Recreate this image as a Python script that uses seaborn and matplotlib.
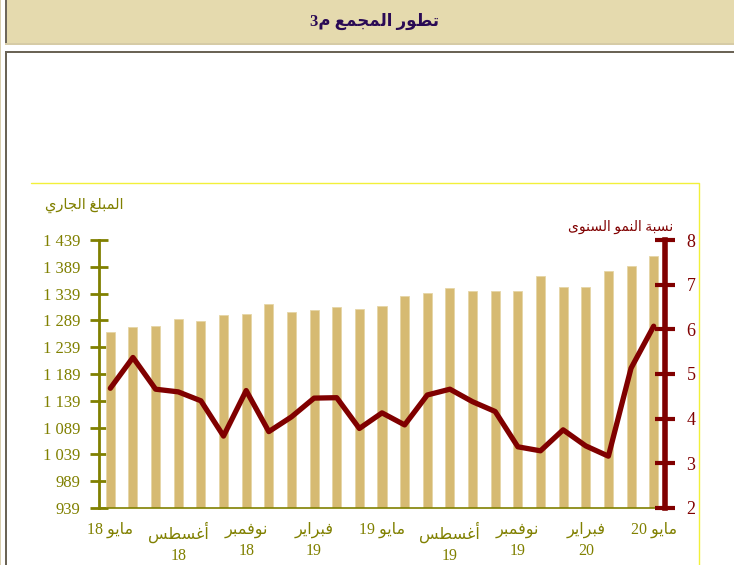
import re
import numpy as np
import seaborn as sns
import matplotlib
matplotlib.use('Agg')
import matplotlib.pyplot as plt
from matplotlib.patches import Rectangle
from matplotlib.lines import Line2D

# monthly data, May 2018 - May 2020
months = ["مايو 18", "يونيو 18", "يوليو 18", "أغسطس 18", "سبتمبر 18", "أكتوبر 18",
          "نوفمبر 18", "ديسمبر 18", "يناير 19", "فبراير 19", "مارس 19", "أبريل 19",
          "مايو 19", "يونيو 19", "يوليو 19", "أغسطس 19", "سبتمبر 19", "أكتوبر 19",
          "نوفمبر 19", "ديسمبر 19", "يناير 20", "فبراير 20", "مارس 20", "أبريل 20", "مايو 20"]
amount = [1267, 1277, 1279, 1292, 1288, 1299, 1301, 1320, 1305, 1308, 1314, 1310, 1316,
          1334, 1340, 1349, 1343, 1344, 1344, 1371, 1351, 1351, 1382, 1390, 1410]
growth = [4.68, 5.37, 4.66, 4.60, 4.40, 3.61, 4.63, 3.71, 4.04, 4.46, 4.47, 3.78, 4.13,
          3.86, 4.53, 4.66, 4.38, 4.16, 3.37, 3.28, 3.75, 3.39, 3.16, 5.13, 6.07]
xtick_labels = ["مايو 18", "أغسطس\n18", "نوفمبر\n18", "فبراير\n19", "مايو 19",
                "أغسطس\n19", "نوفمبر\n19", "فبراير\n20", "مايو 20"]
left_ticks = list(range(939, 1440, 50))
right_ticks = [2, 3, 4, 5, 6, 7, 8]

title = "تطور المجمع م3"
left_title = "المبلغ الجاري"
right_title = "نسبة النمو السنوى"

# matplotlib has no arabic shaping, so map letters to presentation forms
FORMS = {
    'ا': ('\uFE8D', '\uFE8E', None, None),
    'أ': ('\uFE83', '\uFE84', None, None),
    'ب': ('\uFE8F', '\uFE90', '\uFE91', '\uFE92'),
    'ة': ('\uFE93', '\uFE94', None, None),
    'ت': ('\uFE95', '\uFE96', '\uFE97', '\uFE98'),
    'ج': ('\uFE9D', '\uFE9E', '\uFE9F', '\uFEA0'),
    'ر': ('\uFEAD', '\uFEAE', None, None),
    'س': ('\uFEB1', '\uFEB2', '\uFEB3', '\uFEB4'),
    'ط': ('\uFEC1', '\uFEC2', '\uFEC3', '\uFEC4'),
    'ع': ('\uFEC9', '\uFECA', '\uFECB', '\uFECC'),
    'غ': ('\uFECD', '\uFECE', '\uFECF', '\uFED0'),
    'ف': ('\uFED1', '\uFED2', '\uFED3', '\uFED4'),
    'ل': ('\uFEDD', '\uFEDE', '\uFEDF', '\uFEE0'),
    'م': ('\uFEE1', '\uFEE2', '\uFEE3', '\uFEE4'),
    'ن': ('\uFEE5', '\uFEE6', '\uFEE7', '\uFEE8'),
    'و': ('\uFEED', '\uFEEE', None, None),
    'ى': ('\uFEEF', '\uFEF0', None, None),
    'ي': ('\uFEF1', '\uFEF2', '\uFEF3', '\uFEF4'),
}


def shape(text):
    out = []
    for i, ch in enumerate(text):
        f = FORMS.get(ch)
        if f is None:
            out.append(ch)
            continue
        prev = text[i - 1] if i > 0 else ''
        nxt = text[i + 1] if i + 1 < len(text) else ''
        jp = prev in FORMS and FORMS[prev][2] is not None
        jn = f[2] is not None and nxt in FORMS
        if jp and jn:
            out.append(f[3])
        elif jp:
            out.append(f[1])
        elif jn:
            out.append(f[2])
        else:
            out.append(f[0])
    return ''.join(out)


def ar(text):
    lines = []
    for line in text.split('\n'):
        runs = re.findall(r'[0-9]+|[^0-9]+', shape(line))
        vis = [r if r[0].isdigit() else r[::-1] for r in runs]
        lines.append(''.join(vis[::-1]))
    return '\n'.join(lines)


olive = '#808000'
maroon = '#800000'
W, H = 734, 565

sns.set_style('white')
plt.rcParams['font.family'] = ['Liberation Serif', 'DejaVu Sans']

fig = plt.figure(figsize=(W / 100, H / 100), dpi=100)


def fx(x):
    return x / W


def fy(y):
    return 1 - y / H


def rect(x0, y0, x1, y1, color):
    fig.add_artist(Rectangle((fx(x0), fy(y1)), fx(x1) - fx(x0), fy(y0) - fy(y1),
                             transform=fig.transFigure, color=color, lw=0))


# page decoration
rect(0, 0, 1.5, H, '#D9CFAE')
rect(5, 0, W, 43, '#E5DAAE')
rect(5, 43, W, 45, '#D6CBA6')
rect(5, 0, 7, 43, '#6E675A')
rect(5, 51, W, 53, '#6B6456')
rect(5, 51, 7, H, '#6B6456')
fig.add_artist(Line2D([fx(31), fx(699), fx(699)], [fy(183), fy(183), fy(H)],
                      transform=fig.transFigure, color='#F2F03A', lw=1))
fig.text(fx(375), fy(21), ar(title), ha='center', va='center', fontsize=12,
         fontweight='bold', color='#2A0A55')

ax = fig.add_axes([fx(99), fy(508), fx(665) - fx(99), fy(240) - fy(508)])
ax.patch.set_alpha(0)
sns.barplot(x=months, y=amount, ax=ax, color='#D6BA72', width=0.4, saturation=1,
            edgecolor='#E6D6A6', linewidth=0.6)
ax.set_ylim(939, 1439)
ax.set_xlim(-0.5, len(months) - 0.5)
ax.set_xlabel('')
ax.set_ylabel('')

ax2 = ax.twinx()
sns.lineplot(x=np.arange(len(growth)), y=growth, ax=ax2, color=maroon, linewidth=3.8)
ax2.set_ylim(2, 8)
ax2.set_xlim(-0.5, len(months) - 0.5)
ax2.set_ylabel('')

for s in ['top', 'right']:
    ax.spines[s].set_visible(False)
ax.spines['left'].set_color(olive)
ax.spines['left'].set_linewidth(2)
ax.spines['bottom'].set_color(olive)
ax.spines['bottom'].set_linewidth(1.2)
for s in ['top', 'left', 'bottom']:
    ax2.spines[s].set_visible(False)
ax2.spines['right'].set_color(maroon)
ax2.spines['right'].set_linewidth(4)

ax.set_yticks(left_ticks)
ax.set_yticklabels([f"{v:,}".replace(',', ' ') for v in left_ticks])
ax.tick_params(axis='y', direction='inout', length=13, width=2, color=olive,
               labelcolor=olive, labelsize=12, pad=7)
ax2.set_yticks(right_ticks)
ax2.tick_params(axis='y', direction='inout', length=15, width=3, color=maroon,
                labelcolor=maroon, labelsize=13, pad=8)

ax.set_xticks(np.arange(0, len(months), 3))
ax.set_xticklabels([ar(t) for t in xtick_labels])
ax.set_xticks(np.arange(-0.5, len(months), 1), minor=True)
ax.tick_params(axis='x', which='major', length=0, labelcolor=olive, labelsize=11.5, pad=10)
ax.tick_params(axis='x', which='minor', direction='inout', length=10, width=1, color=olive)
for lbl in ax.get_xticklabels():
    lbl.set_linespacing(1.4)

fig.text(fx(84), fy(205), ar(left_title), ha='center', va='center', fontsize=10.5,
         color=olive)
fig.text(fx(621), fy(227), ar(right_title), ha='center', va='center', fontsize=10,
         color=maroon)

fig.savefig('out.png', dpi=100)
